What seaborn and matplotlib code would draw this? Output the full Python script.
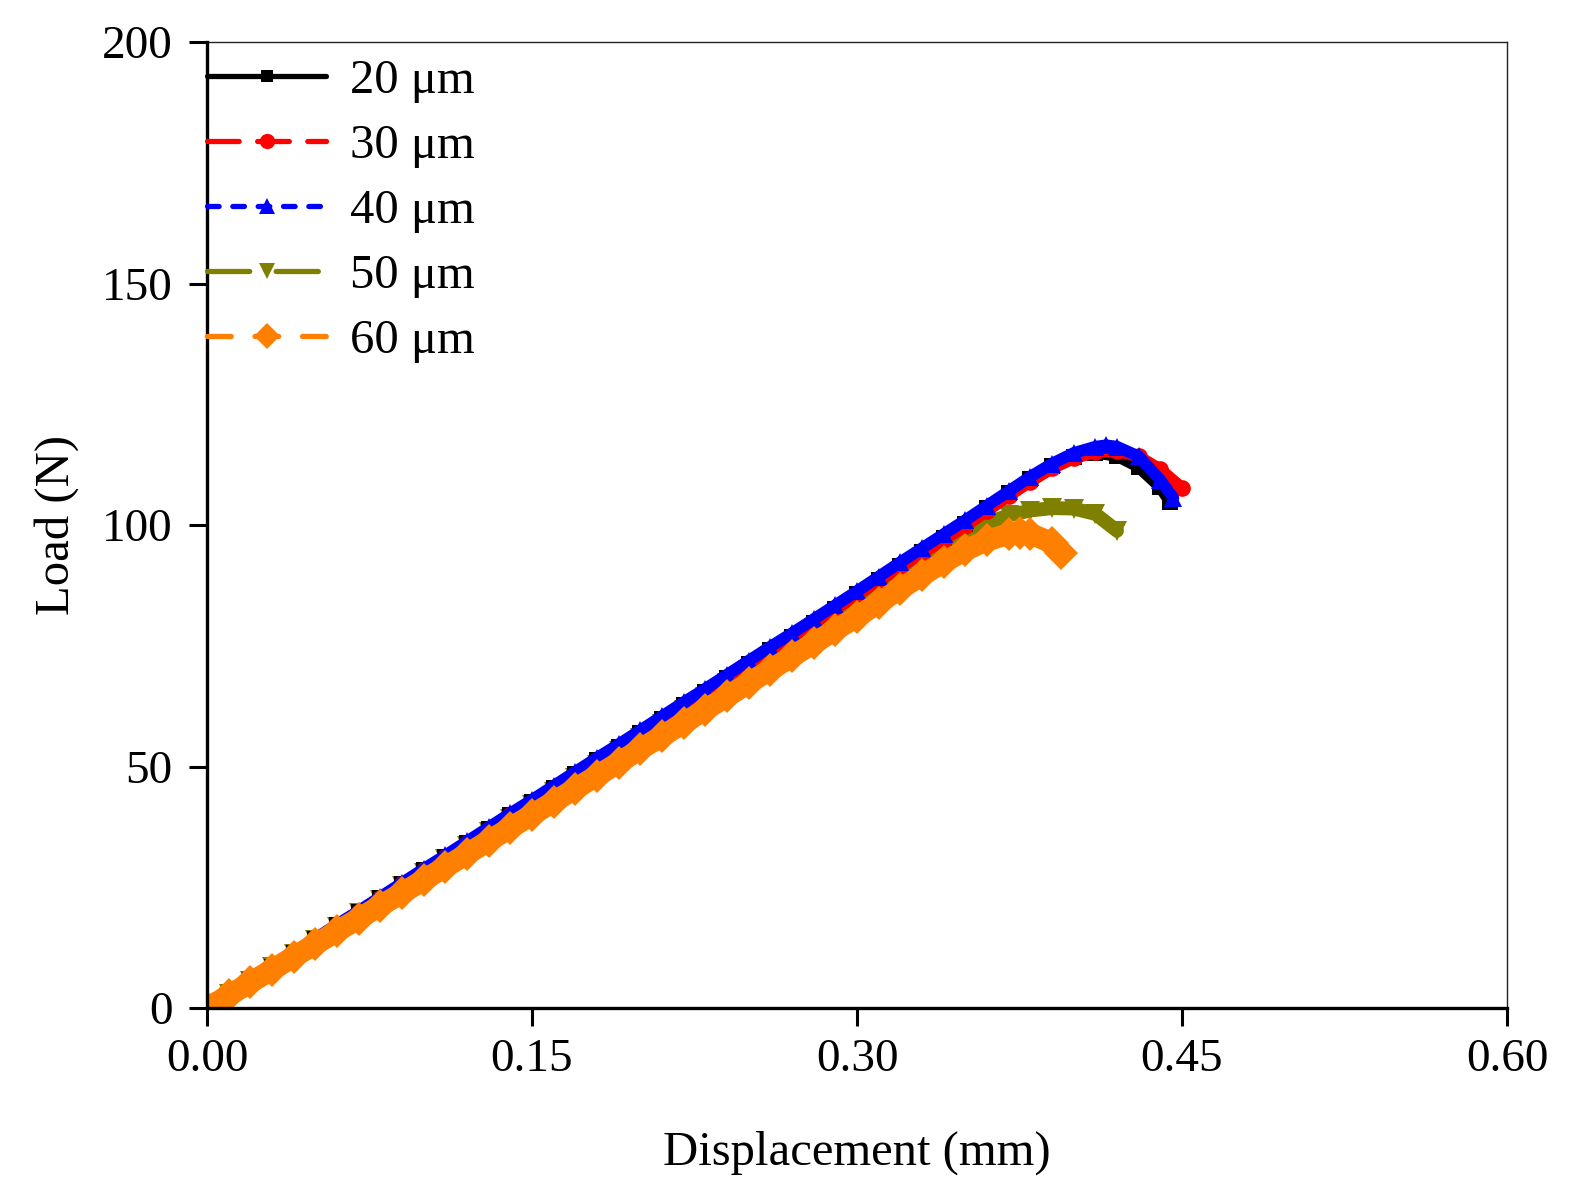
import matplotlib
matplotlib.use("Agg")
import matplotlib.pyplot as plt
import seaborn as sns
import pandas as pd
from matplotlib.lines import Line2D

# ---------------- data ----------------
labels = ["20 μm", "30 μm", "40 μm", "50 μm", "60 μm"]

x_20 = [0.00, 0.01, 0.02, 0.03, 0.04, 0.05, 0.06, 0.07, 0.08, 0.09, 0.10,
        0.11, 0.12, 0.13, 0.14, 0.15, 0.16, 0.17, 0.18, 0.19, 0.20,
        0.21, 0.22, 0.23, 0.24, 0.25, 0.26, 0.27, 0.28, 0.29, 0.30,
        0.31, 0.32, 0.33, 0.34, 0.35, 0.36, 0.37, 0.38, 0.39, 0.40,
        0.41, 0.42, 0.43, 0.44, 0.4445]
y_20 = [0.0, 2.8, 5.7, 8.5, 11.4, 14.2, 17.1, 19.9, 22.8, 25.6, 28.5,
        31.3, 34.2, 37.0, 39.9, 42.7, 45.6, 48.4, 51.3, 54.1, 57.0,
        59.8, 62.7, 65.5, 68.4, 71.2, 74.1, 76.9, 79.8, 82.6, 85.7,
        88.6, 91.6, 94.5, 97.4, 100.2, 103.6, 106.6, 109.6, 112.2, 114.1,
        115.0, 114.3, 112.0, 107.8, 104.8]

x_30 = [0.00, 0.01, 0.02, 0.03, 0.04, 0.05, 0.06, 0.07, 0.08, 0.09, 0.10,
        0.11, 0.12, 0.13, 0.14, 0.15, 0.16, 0.17, 0.18, 0.19, 0.20,
        0.21, 0.22, 0.23, 0.24, 0.25, 0.26, 0.27, 0.28, 0.29, 0.30,
        0.31, 0.32, 0.33, 0.34, 0.35, 0.36, 0.37, 0.38, 0.39, 0.40,
        0.41, 0.42, 0.43, 0.44, 0.45]
y_30 = [0.0, 2.8, 5.7, 8.5, 11.4, 14.2, 17.1, 19.9, 22.8, 25.6, 28.5,
        31.3, 34.2, 37.0, 39.9, 42.7, 45.6, 48.4, 51.3, 54.1, 57.0,
        59.8, 62.7, 65.5, 68.4, 71.2, 74.1, 76.9, 79.8, 82.6, 85.5,
        88.4, 91.3, 94.1, 96.9, 99.8, 102.9, 106.0, 109.0, 111.7, 113.8,
        115.1, 115.3, 114.2, 111.5, 107.7]

x_40 = [0.00, 0.01, 0.02, 0.03, 0.04, 0.05, 0.06, 0.07, 0.08, 0.09, 0.10,
        0.11, 0.12, 0.13, 0.14, 0.15, 0.16, 0.17, 0.18, 0.19, 0.20,
        0.21, 0.22, 0.23, 0.24, 0.25, 0.26, 0.27, 0.28, 0.29, 0.30,
        0.31, 0.32, 0.33, 0.34, 0.35, 0.36, 0.37, 0.38, 0.39, 0.40,
        0.41, 0.415, 0.42, 0.43, 0.44, 0.446]
y_40 = [0.0, 2.9, 5.8, 8.6, 11.5, 14.4, 17.3, 20.1, 23.0, 25.9, 28.8,
        31.6, 34.5, 37.4, 40.3, 43.1, 46.0, 48.9, 51.8, 54.6, 57.5,
        60.4, 63.3, 66.1, 69.0, 71.9, 74.8, 77.6, 80.5, 83.4, 86.3,
        89.3, 92.3, 95.2, 98.1, 101.0, 104.0, 107.0, 110.0, 112.7, 114.9,
        116.2, 116.5, 116.2, 114.2, 109.3, 105.6]

x_50 = [0.00, 0.01, 0.02, 0.03, 0.04, 0.05, 0.06, 0.07, 0.08, 0.09, 0.10,
        0.11, 0.12, 0.13, 0.14, 0.15, 0.16, 0.17, 0.18, 0.19, 0.20,
        0.21, 0.22, 0.23, 0.24, 0.25, 0.26, 0.27, 0.28, 0.29, 0.30,
        0.31, 0.32, 0.33, 0.34, 0.35, 0.36, 0.37, 0.38, 0.39, 0.40,
        0.41, 0.42]
y_50 = [0.0, 2.8, 5.6, 8.4, 11.2, 14.0, 16.8, 19.6, 22.4, 25.2, 28.0,
        30.8, 33.6, 36.4, 39.2, 42.0, 44.8, 47.6, 50.4, 53.2, 56.0,
        58.8, 61.6, 64.4, 67.2, 70.0, 72.8, 75.6, 78.4, 81.2, 84.2,
        87.1, 90.0, 92.8, 95.7, 98.3, 100.4, 102.0, 103.0, 103.5, 103.4,
        102.3, 98.8]

x_60 = [0.00, 0.01, 0.02, 0.03, 0.04, 0.05, 0.06, 0.07, 0.08, 0.09, 0.10,
        0.11, 0.12, 0.13, 0.14, 0.15, 0.16, 0.17, 0.18, 0.19, 0.20,
        0.21, 0.22, 0.23, 0.24, 0.25, 0.26, 0.27, 0.28, 0.29, 0.30,
        0.31, 0.32, 0.33, 0.34, 0.35, 0.36, 0.37, 0.375, 0.38, 0.39, 0.394]
y_60 = [0.0, 2.6, 5.3, 7.9, 10.6, 13.2, 15.9, 18.5, 21.2, 23.8, 26.5,
        29.2, 31.9, 34.6, 37.3, 40.0, 42.7, 45.4, 48.1, 50.8, 53.6,
        56.3, 59.0, 61.8, 64.5, 67.3, 70.0, 72.8, 75.5, 78.3, 81.0,
        83.9, 86.8, 89.6, 92.3, 94.8, 96.8, 98.1, 98.4, 98.2, 96.3, 94.2]

xs = [x_20, x_30, x_40, x_50, x_60]
ys = [y_20, y_30, y_40, y_50, y_60]

# ---------------- styles ----------------
colors = ["#000000", "#FF0000", "#0000FF", "#808000", "#FF8000"]
markers = ["s", "o", "^", "v", "D"]
dashes = [None, (6, 3.5), (2.2, 2.6), (8, 5), (4.5, 4.5)]
band_lw = [8.5, 8.5, 8.5, 10.0, 15.5]
msizes = [11, 12, 13, 14, 17]
leg_ms = [9, 11, 12, 12, 13]
zorders = [3, 4, 5, 2, 6]

sns.set_theme(style="ticks")
plt.rcParams["font.family"] = ["Liberation Serif", "DejaVu Serif"]
plt.rcParams["text.color"] = "black"
plt.rcParams["axes.labelcolor"] = "black"
plt.rcParams["xtick.color"] = "black"
plt.rcParams["ytick.color"] = "black"

fig = plt.figure(figsize=(15.77, 12.0), dpi=100)
ax = fig.add_axes([0.1313, 0.16, 0.8243, 0.805])

for i in range(5):
    df = pd.DataFrame({"Displacement": xs[i], "Load": ys[i]})
    sns.lineplot(data=df, x="Displacement", y="Load", ax=ax, sort=False,
                 color=colors[i], linewidth=band_lw[i], marker=markers[i],
                 markersize=msizes[i], markeredgewidth=0, legend=False,
                 solid_capstyle="round", zorder=zorders[i])

ax.set_xlim(0, 0.60)
ax.set_ylim(0, 200)
ax.set_xticks([0.00, 0.15, 0.30, 0.45, 0.60])
ax.set_xticklabels(["0.00", "0.15", "0.30", "0.45", "0.60"])
ax.set_yticks([0, 50, 100, 150, 200])
ax.tick_params(axis="x", direction="out", length=13, width=2.2,
               labelsize=34, colors="black", pad=9)
ax.tick_params(axis="y", direction="out", length=13, width=2.2,
               labelsize=34, colors="black", pad=12)

for s in ["left", "bottom"]:
    ax.spines[s].set_linewidth(2.4)
    ax.spines[s].set_color("black")
for s in ["top", "right"]:
    ax.spines[s].set_linewidth(1.0)
    ax.spines[s].set_color("#222222")
ax.spines["left"].set_zorder(20)
ax.spines["bottom"].set_zorder(20)

ax.set_xlabel("Displacement (mm)", fontsize=35, labelpad=36, color="black")
ax.set_ylabel("Load (N)", fontsize=35, labelpad=16, color="black")

handles = []
for i in range(5):
    h = Line2D([0], [0], color=colors[i], lw=3.8, marker=markers[i],
               markersize=leg_ms[i], markeredgewidth=0,
               dash_capstyle="round", solid_capstyle="round")
    if dashes[i] is not None:
        h.set_dashes(dashes[i])
    handles.append(h)

leg = ax.legend(handles, labels, loc="upper left", bbox_to_anchor=(0.0, 0.982),
                frameon=False, fontsize=35, handlelength=2.45,
                handletextpad=0.5, labelspacing=0.43, borderaxespad=0.0,
                borderpad=0.0)
leg.set_zorder(30)

fig.savefig("out.png", dpi=100)
